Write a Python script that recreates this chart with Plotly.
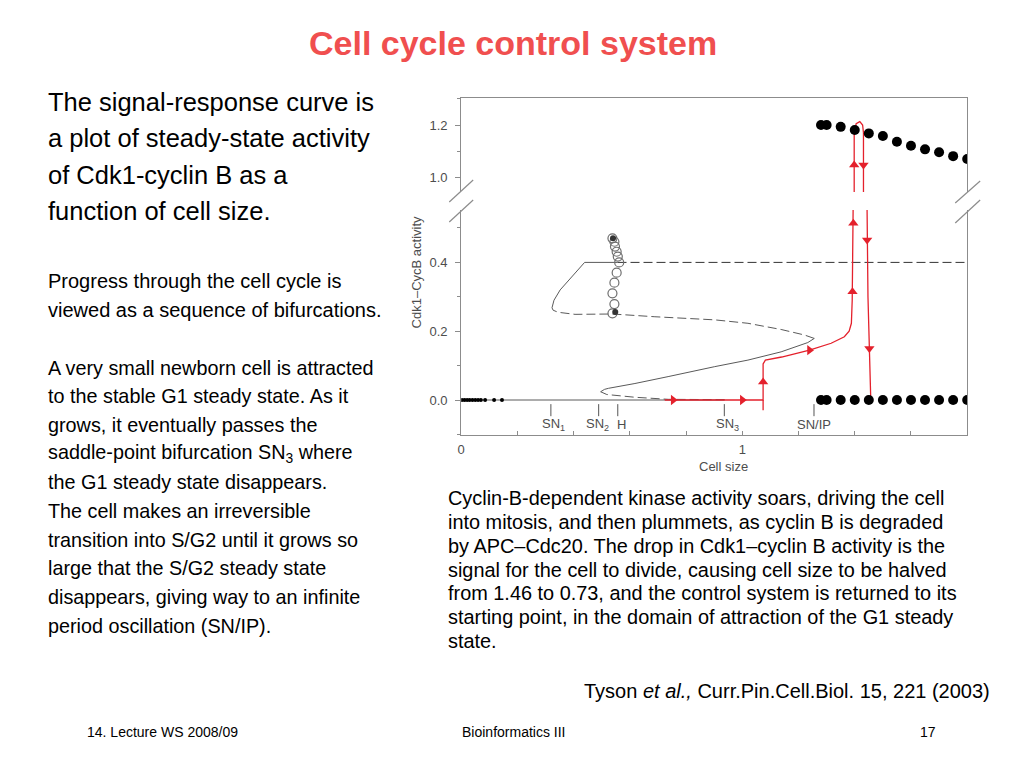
import plotly.graph_objects as go

# ---------------- data ----------------
# filled black dots: max / min of the stable limit cycle (after SN/IP)
osc_x = [1.28, 1.30, 1.35, 1.40, 1.45, 1.50, 1.55, 1.60, 1.65, 1.70, 1.75, 1.80]
osc_max = [1.200, 1.200, 1.193, 1.181, 1.168, 1.158, 1.136, 1.121, 1.107, 1.096, 1.081, 1.070]
osc_min = [0.0, 0.0, 0.0, 0.0, 0.0, 0.0, 0.0, 0.0, 0.0, 0.0, 0.0, 0.0]

# open circles near the Hopf point
hopf_x = [0.538, 0.545, 0.547, 0.553, 0.557, 0.562, 0.553, 0.545, 0.538, 0.545, 0.538]
hopf_y = [0.470, 0.460, 0.446, 0.431, 0.417, 0.400, 0.370, 0.341, 0.310, 0.279, 0.252]
hopf_dark_x = [0.540, 0.548]
hopf_dark_y = [0.470, 0.256]

# black dots at very small size
early_x = [0.003, 0.012, 0.021, 0.030, 0.040, 0.050, 0.060, 0.070, 0.085, 0.117, 0.145]
early_y = [0.0, 0.0, 0.0, 0.0, 0.0, 0.0, 0.0, 0.0, 0.0, 0.0, 0.0]

# steady-state branches (signal-response curve)
g1_x = [0.0, 0.937]
g1_y = [0.0, 0.0]
saddle_lo_x = [0.937, 0.850, 0.737, 0.618, 0.560, 0.518, 0.496]
saddle_lo_y = [0.001, 0.001, 0.002, 0.008, 0.012, 0.016, 0.024]
sg2_x = [0.496, 0.510, 0.524, 0.618, 0.736, 0.849, 0.902, 1.020, 1.138, 1.233, 1.256]
sg2_y = [0.024, 0.031, 0.034, 0.048, 0.068, 0.089, 0.097, 0.116, 0.140, 0.167, 0.179]
saddle_hi_x = [1.256, 1.221, 1.138, 1.020, 0.902, 0.784, 0.689, 0.538, 0.405, 0.345, 0.327, 0.323]
saddle_hi_y = [0.179, 0.189, 0.205, 0.223, 0.233, 0.237, 0.242, 0.250, 0.249, 0.255, 0.261, 0.268]
m_stable_x = [0.323, 0.330, 0.352, 0.439, 0.556]
m_stable_y = [0.268, 0.290, 0.320, 0.400, 0.400]
m_unstable_x = [0.556, 1.80]
m_unstable_y = [0.400, 0.400]

# red trajectory of the cell cycle
traj_lo_x = [0.724, 1.074, 1.074, 1.082, 1.140, 1.239, 1.316, 1.363, 1.380, 1.388, 1.391, 1.395, 1.443, 1.447, 1.457]
traj_lo_y = [0.0, 0.0, 0.105, 0.116, 0.125, 0.145, 0.165, 0.184, 0.200, 0.223, 0.291, 0.620, 0.620, 0.300, 0.0]
tail_x = [1.074, 1.074]
tail_y = [-0.030, 0.0]
traj_hi_x = [1.398, 1.398, 1.405, 1.418, 1.428, 1.431, 1.431]
traj_hi_y = [0.90, 1.17, 1.205, 1.213, 1.200, 1.17, 0.90]

arrow_lo_x = [0.754, 1.000, 1.074, 1.239, 1.392, 1.395, 1.444, 1.452]
arrow_lo_y = [0.0, 0.0, 0.052, 0.145, 0.315, 0.514, 0.465, 0.150]
arrow_hi_x = [1.398, 1.431]
arrow_hi_y = [1.047, 1.047]

# bifurcation points
bif_names = ["SN<sub>1</sub>", "SN<sub>2</sub>", "H", "SN<sub>3</sub>", "SN/IP"]
bif_x = [0.319, 0.489, 0.557, 0.936, 1.255]

# axis ticks
x_tickvals = [0, 1]
x_ticktext = ["0", "1"]
y_lo_tickvals = [0.0, 0.2, 0.4]
y_lo_ticktext = ["0.0", "0.2", "0.4"]
y_hi_tickvals = [1.0, 1.2]
y_hi_ticktext = ["1.0", "1.2"]

# ---------------- styles ----------------
OFF = 8                      # default page (body) margin of the html page
W, H = 1024 - 2 * OFF, 768 - 2 * OFF
RED = "#e4212c"
CURVE = "#5a5a5a"
FRAME = "#8c8c8c"
FONT = "Liberation Sans, Arial, Helvetica, sans-serif"
DASH = "9px,4px"

arrow_lo_sym = ["triangle-right", "triangle-right", "triangle-up", "triangle-right",
                "triangle-up", "triangle-up", "triangle-down", "triangle-down"]
arrow_hi_sym = ["triangle-up", "triangle-down"]

fig = go.Figure()

def line(x, y, color, dash="solid", width=1.0, xa="x", ya="y"):
    fig.add_trace(go.Scatter(x=x, y=y, mode="lines", xaxis=xa, yaxis=ya,
                             line=dict(color=color, width=width, dash=dash),
                             hoverinfo="skip", showlegend=False))

# curve branches
line(g1_x, g1_y, CURVE)
line(saddle_lo_x, saddle_lo_y, CURVE, DASH)
line(sg2_x, sg2_y, CURVE)
line(saddle_hi_x, saddle_hi_y, CURVE, DASH)
line(m_stable_x, m_stable_y, CURVE)
line(m_unstable_x, m_unstable_y, "#333333", DASH)

# early black dots
fig.add_trace(go.Scatter(x=early_x, y=early_y, mode="markers",
                         marker=dict(color="black", size=4), hoverinfo="skip", showlegend=False))

# bifurcation tick marks
bx, by = [], []
for v in bif_x:
    bx += [v, v, None]
    by += [-0.012, -0.047, None]
fig.add_trace(go.Scatter(x=bx, y=by, mode="lines", line=dict(color="#555555", width=1),
                         hoverinfo="skip", showlegend=False))

# hopf open circles
fig.add_trace(go.Scatter(x=hopf_x, y=hopf_y, mode="markers",
                         marker=dict(symbol="circle-open", size=9, color="#6e6e6e", line=dict(width=1.2)),
                         hoverinfo="skip", showlegend=False))
fig.add_trace(go.Scatter(x=hopf_dark_x, y=hopf_dark_y, mode="markers",
                         marker=dict(symbol="circle", size=6, color="#333333"),
                         hoverinfo="skip", showlegend=False))

# red trajectory
line(traj_lo_x, traj_lo_y, RED, width=1.3)
line(tail_x, tail_y, RED, width=1.3)
line(traj_hi_x, traj_hi_y, RED, width=1.3, xa="x2", ya="y2")
fig.add_trace(go.Scatter(x=arrow_lo_x, y=arrow_lo_y, mode="markers",
                         marker=dict(symbol=arrow_lo_sym, size=9, color=RED),
                         hoverinfo="skip", showlegend=False))
fig.add_trace(go.Scatter(x=arrow_hi_x, y=arrow_hi_y, mode="markers", xaxis="x2", yaxis="y2",
                         marker=dict(symbol=arrow_hi_sym, size=9, color=RED),
                         hoverinfo="skip", showlegend=False))

# black oscillation dots
fig.add_trace(go.Scatter(x=osc_x, y=osc_min, mode="markers",
                         marker=dict(color="black", size=10), hoverinfo="skip", showlegend=False))
fig.add_trace(go.Scatter(x=osc_x, y=osc_max, mode="markers", xaxis="x2", yaxis="y2",
                         marker=dict(color="black", size=10), hoverinfo="skip", showlegend=False))

# ---------------- layout ----------------
def px_x(p):
    return (p - OFF) / W

def px_y(p):
    return 1 - (p - OFF) / H

x_dom = [px_x(459), px_x(967)]
tickfont = dict(family=FONT, size=13, color="#4d4d4d")

fig.update_layout(
    width=W, height=H, margin=dict(l=0, r=0, t=0, b=0),
    paper_bgcolor="white", plot_bgcolor="white", showlegend=False,
    font=dict(family=FONT),
    xaxis=dict(domain=x_dom, range=[0, 1.8], anchor="y", showline=True, linecolor=FRAME,
               linewidth=1.2, showgrid=False, zeroline=False, tickmode="array",
               tickvals=x_tickvals, ticktext=x_ticktext, ticks="inside", ticklen=4,
               tickcolor=FRAME, tickfont=tickfont, ticklabelstandoff=2,
               minor=dict(dtick=0.2, tick0=0, ticks="inside", ticklen=4, tickcolor=FRAME, showgrid=False)),
    xaxis2=dict(domain=x_dom, range=[0, 1.8], anchor="y2", side="top", showline=True,
                linecolor=FRAME, linewidth=1.2, showgrid=False, zeroline=False,
                showticklabels=False, ticks=""),
    yaxis=dict(domain=[px_y(435), px_y(210)], range=[-0.1017, 0.5523], anchor="x",
               showline=True, mirror=True, linecolor=FRAME, linewidth=1.2, showgrid=False,
               zeroline=False, tickmode="array", tickvals=y_lo_tickvals, ticktext=y_lo_ticktext,
               ticks="outside", ticklen=5, tickcolor=FRAME, tickfont=tickfont, ticklabelstandoff=5,
               minor=dict(dtick=0.1, tick0=0, ticks="outside", ticklen=3, tickcolor=FRAME, showgrid=False)),
    yaxis2=dict(domain=[px_y(192), px_y(98)], range=[0.944, 1.3033], anchor="x2",
                showline=True, mirror=True, linecolor=FRAME, linewidth=1.2, showgrid=False,
                zeroline=False, tickmode="array", tickvals=y_hi_tickvals, ticktext=y_hi_ticktext,
                ticks="outside", ticklen=5, tickcolor=FRAME, tickfont=tickfont, ticklabelstandoff=5,
                minor=dict(dtick=0.1, tick0=0, ticks="outside", ticklen=3, tickcolor=FRAME, showgrid=False)),
)

# axis break marks
shapes = []
for (x0, y0, x1, y1) in [(447, 202, 471, 180), (447, 222, 471, 200),
                         (955, 203, 980, 181), (955, 223, 980, 200)]:
    shapes.append(dict(type="line", xref="paper", yref="paper",
                       x0=px_x(x0), y0=px_y(y0), x1=px_x(x1), y1=px_y(y1),
                       line=dict(color=FRAME, width=1.2)))
fig.update_layout(shapes=shapes)

ann = []

def text(t, x, y, size, anchor="left", color="black", family=FONT, angle=0):
    ann.append(dict(text=t, x=px_x(x), y=px_y(y), xref="paper", yref="paper",
                    xanchor=anchor, yanchor="middle", showarrow=False, textangle=angle,
                    font=dict(family=family, size=size, color=color)))

# bifurcation labels (data coords)
label_shift = [3, -1, 4, 3, 0]
for name, v, s in zip(bif_names, bif_x, label_shift):
    ann.append(dict(text=name, x=v, y=-0.072, xref="x", yref="y", xanchor="center",
                    yanchor="middle", showarrow=False, xshift=s,
                    font=dict(family=FONT, size=13, color="#4d4d4d")))

# axis titles
text("Cell size", 722, 466, 13, anchor="center", color="#4d4d4d")
text("Cdk1–CycB activity", 414, 272, 13, anchor="center", color="#4d4d4d", angle=-90)

# slide title
text("<b>Cell cycle control system</b>", 511, 43, 34, anchor="center", color="#f04f4f")

# left text
para1 = ["The signal-response curve is", "a plot of steady-state activity",
         "of Cdk1-cyclin B as a", "function of cell size."]
for t, y in zip(para1, [102, 138, 175, 211.5]):
    text(t, 42, y, 25.5)

para2 = ["Progress through the cell cycle is", "viewed as a sequence of bifurcations."]
for t, y in zip(para2, [281.5, 309.5]):
    text(t, 42, y, 20)

para3 = ["A very small newborn cell is attracted",
         "to the stable G1 steady state. As it",
         "grows, it eventually passes the",
         "saddle-point bifurcation SN<sub>3</sub> where",
         "the G1 steady state disappears.",
         "The cell makes an irreversible",
         "transition into S/G2 until it grows so",
         "large that the S/G2 steady state",
         "disappears, giving way to an infinite",
         "period oscillation (SN/IP)."]
for t, y in zip(para3, [367.5, 396, 424.5, 453.5, 482, 510.5, 539.5, 568, 597, 625.5]):
    text(t, 42, y, 19.8)

para4 = ["Cyclin-B-dependent kinase activity soars, driving the cell",
         "into mitosis, and then plummets, as cyclin B is degraded",
         "by APC–Cdc20. The drop in Cdk1–cyclin B activity is the",
         "signal for the cell to divide, causing cell size to be halved",
         "from 1.46 to 0.73, and the control system is returned to its",
         "starting point, in the domain of attraction of the G1 steady",
         "state."]
for t, y in zip(para4, [498, 522, 546, 570, 593, 617, 641]):
    text(t, 444, y, 19.9)

text("Tyson <i>et al.,</i> Curr.Pin.Cell.Biol. 15, 221 (2003)", 992, 691, 20, anchor="right")

# footer
text("14. Lecture WS 2008/09", 81, 732, 14)
text("Bioinformatics III", 511, 732, 14, anchor="center")
text("17", 928, 732, 14, anchor="center")

fig.update_layout(annotations=ann)

fig.write_html("out.html")
